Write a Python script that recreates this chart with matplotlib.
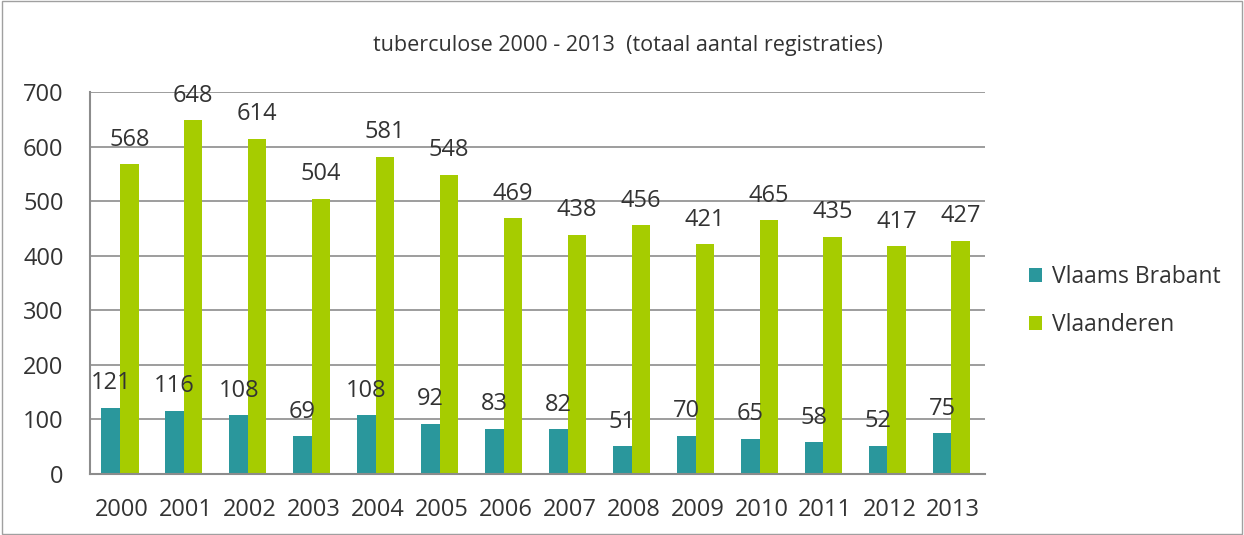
import numpy as np
import matplotlib.pyplot as plt
from matplotlib.patches import Rectangle

# data
years = ['2000', '2001', '2002', '2003', '2004', '2005', '2006',
         '2007', '2008', '2009', '2010', '2011', '2012', '2013']
vlaams_brabant = [121, 116, 108, 69, 108, 92, 83, 82, 51, 70, 65, 58, 52, 75]
vlaanderen = [568, 648, 614, 504, 581, 548, 469, 438, 456, 421, 465, 435, 417, 427]

teal = '#2A979C'
green = '#A6CC00'
grey = '#8C8C8C'
text_col = '#333333'

plt.rcParams['font.family'] = ['Open Sans', 'DejaVu Sans']

fig = plt.figure(figsize=(12.44, 5.35), dpi=100)
ax = fig.add_axes([0.0723, 0.114, 0.7197, 0.714])

x = np.arange(len(years))
w = 0.29
b1 = ax.bar(x - w / 2 - 0.03, vlaams_brabant, w, color=teal, label='Vlaams Brabant')
b2 = ax.bar(x + w / 2 - 0.03, vlaanderen, w, color=green, label='Vlaanderen')

for rect, v in zip(b1, vlaams_brabant):
    ax.annotate(str(v), (rect.get_x() + rect.get_width() / 2, v),
                xytext=(0, 9), textcoords='offset points', ha='center', va='bottom',
                fontsize=17, color=text_col)
for rect, v in zip(b2, vlaanderen):
    ax.annotate(str(v), (rect.get_x() + rect.get_width() / 2, v),
                xytext=(0, 9), textcoords='offset points', ha='center', va='bottom',
                fontsize=17, color=text_col)

ax.set_xlim(-0.5, len(years) - 0.5)
ax.set_ylim(0, 700)
ax.set_yticks(range(0, 701, 100))
ax.set_xticks(x)
ax.set_xticklabels(years)
ax.tick_params(axis='both', length=0, labelsize=17, colors=text_col)
ax.tick_params(axis='x', pad=17)
ax.tick_params(axis='y', pad=19)
ax.grid(axis='y', color=grey, linewidth=1.2)
ax.set_axisbelow(True)
for side in ['top', 'right']:
    ax.spines[side].set_visible(False)
for side in ['left', 'bottom']:
    ax.spines[side].set_color(grey)
    ax.spines[side].set_linewidth(1.5)

fig.text(0.505, 0.915, 'tuberculose 2000 - 2013  (totaal aantal registraties)',
         ha='center', va='center', fontsize=15.5, color=text_col)

ax.legend(loc='center left', bbox_to_anchor=(0.818, 0.437), bbox_transform=fig.transFigure,
          frameon=False, fontsize=16.5, handlelength=0.55, handleheight=0.55,
          labelspacing=1.05, handletextpad=0.45, labelcolor=text_col, borderpad=0)

# thin border round the whole chart
fig.patches.append(Rectangle((0.002, 0.002), 0.996, 0.996, transform=fig.transFigure,
                             fill=False, edgecolor='#A0A0A0', linewidth=1))

fig.savefig('out.png', dpi=100)
